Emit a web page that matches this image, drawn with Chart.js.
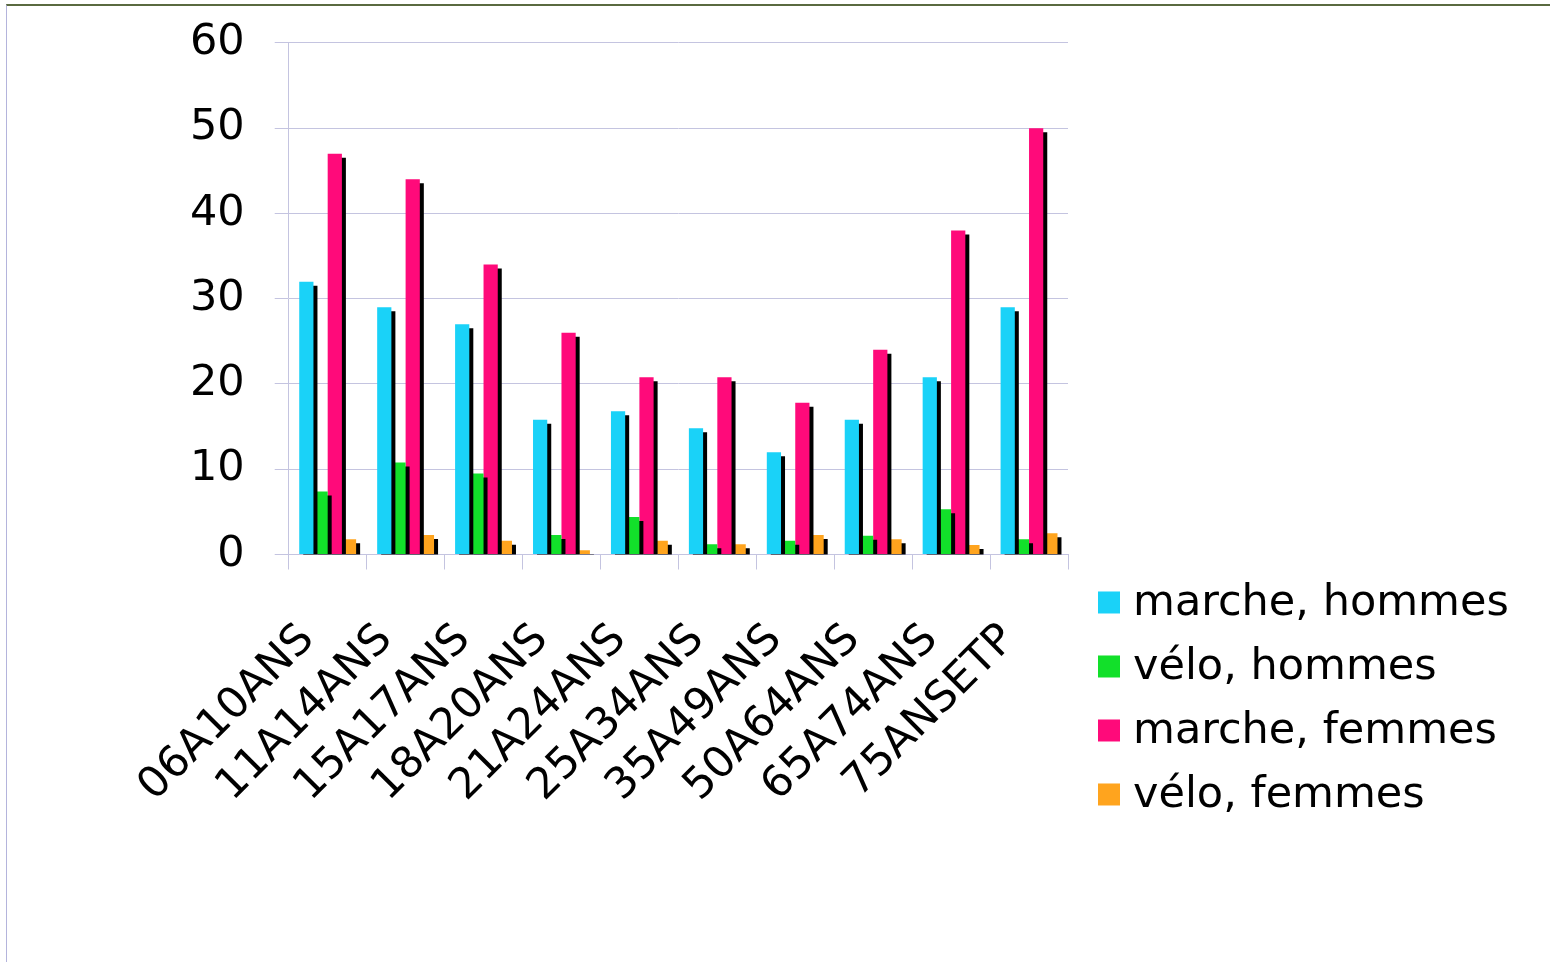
<!DOCTYPE html>
<html>
<head>
<meta charset="utf-8">
<script src="https://cdn.jsdelivr.net/npm/chart.js@4/dist/chart.umd.min.js"></script>
<style>
  html, body { margin: 0; padding: 0; background: #ffffff; }
  #wrap { position: relative; width: 1550px; height: 962px; overflow: hidden; }
  #frame {
    position: absolute; left: 6px; top: 4px; right: 0; bottom: 0;
    border-top: 2px solid #5a6a40; border-left: 1px solid #b4b4dc;
    pointer-events: none;
  }
  canvas { position: absolute; left: 0; top: 0; }
</style>
</head>
<body>
<div id="wrap">
  <div id="frame"></div>
  <canvas id="chart" width="1550" height="962"></canvas>
</div>
<script>
// Age bands
const categories = ['06A10ANS', '11A14ANS', '15A17ANS', '18A20ANS', '21A24ANS',
                    '25A34ANS', '35A49ANS', '50A64ANS', '65A74ANS', '75ANSETP'];

// Share of trips per mode, men / women
const marcheHommes = [32, 29, 27, 15.8, 16.8, 14.8, 12, 15.8, 20.8, 29];
const veloHommes   = [7.4, 10.8, 9.5, 2.3, 4.4, 1.2, 1.6, 2.2, 5.3, 1.8];
const marcheFemmes = [47, 44, 34, 26, 20.8, 20.8, 17.8, 24, 38, 50];
const veloFemmes   = [1.8, 2.3, 1.6, 0.5, 1.6, 1.2, 2.3, 1.8, 1.1, 2.5];

const seriesLabels = ['marche, hommes', 'vélo, hommes', 'marche, femmes', 'vélo, femmes'];
const yTicks = [0, 10, 20, 30, 40, 50, 60];

const colors = ['#1ad2f8', '#12e02a', '#ff0a7a', '#ffa41e'];
const gridColor = '#c4c4e0';
const FONT = 'DejaVu Sans';
const FONT_SIZE = 43;

// Hard black drop shadow behind every bar
const barShadow = {
  id: 'barShadow',
  beforeDatasetDraw(chart) {
    const ctx = chart.ctx;
    ctx.save();
    ctx.shadowColor = '#000000';
    ctx.shadowBlur = 0;
    ctx.shadowOffsetX = 4;
    ctx.shadowOffsetY = 4;
  },
  afterDatasetDraw(chart) {
    chart.ctx.restore();
  }
};

// Legend column to the right of the plot, below the baseline level
const sideLegend = {
  id: 'sideLegend',
  afterDraw(chart) {
    const ctx = chart.ctx;
    const area = chart.chartArea;
    const box = 22;
    const x0 = area.right + 30;
    const y0 = area.bottom + 48;
    const step = 64;
    ctx.save();
    ctx.font = FONT_SIZE + 'px "' + FONT + '"';
    ctx.textBaseline = 'middle';
    ctx.textAlign = 'left';
    chart.data.datasets.forEach((ds, i) => {
      const cy = y0 + i * step;
      ctx.fillStyle = ds.backgroundColor;
      ctx.fillRect(x0, cy - box / 2, box, box);
      ctx.fillStyle = '#000000';
      ctx.fillText(ds.label, x0 + box + 13, cy + 1);
    });
    ctx.restore();
  }
};

const seriesData = [marcheHommes, veloHommes, marcheFemmes, veloFemmes];

new Chart(document.getElementById('chart'), {
  type: 'bar',
  data: {
    labels: categories,
    datasets: seriesData.map((d, i) => ({
      label: seriesLabels[i],
      data: d,
      backgroundColor: colors[i],
      borderWidth: 0,
      categoryPercentage: 0.73,
      barPercentage: 1.0
    }))
  },
  plugins: [barShadow, sideLegend],
  options: {
    responsive: false,
    animation: false,
    devicePixelRatio: 1,
    layout: { padding: { left: 160, top: 4, right: 482, bottom: 105 } },
    plugins: {
      tooltip: { enabled: false },
      legend: { display: false }
    },
    scales: {
      x: {
        offset: true,
        grid: {
          offset: true,
          drawOnChartArea: false,
          drawTicks: true,
          tickLength: 15,
          color: gridColor
        },
        border: { color: gridColor, width: 1 },
        ticks: {
          color: '#000000',
          font: { family: FONT, size: FONT_SIZE },
          maxRotation: 45,
          minRotation: 45,
          autoSkip: false,
          padding: 45,
          labelOffset: -20
        }
      },
      y: {
        min: 0,
        max: 60,
        afterBuildTicks(scale) {
          scale.ticks = yTicks.map(v => ({ value: v }));
        },
        grid: { color: gridColor, tickLength: 14 },
        border: { color: gridColor, width: 1 },
        ticks: {
          color: '#000000',
          font: { family: FONT, size: FONT_SIZE, lineHeight: 0.6 },
          padding: 30
        }
      }
    }
  }
});
</script>
</body>
</html>
